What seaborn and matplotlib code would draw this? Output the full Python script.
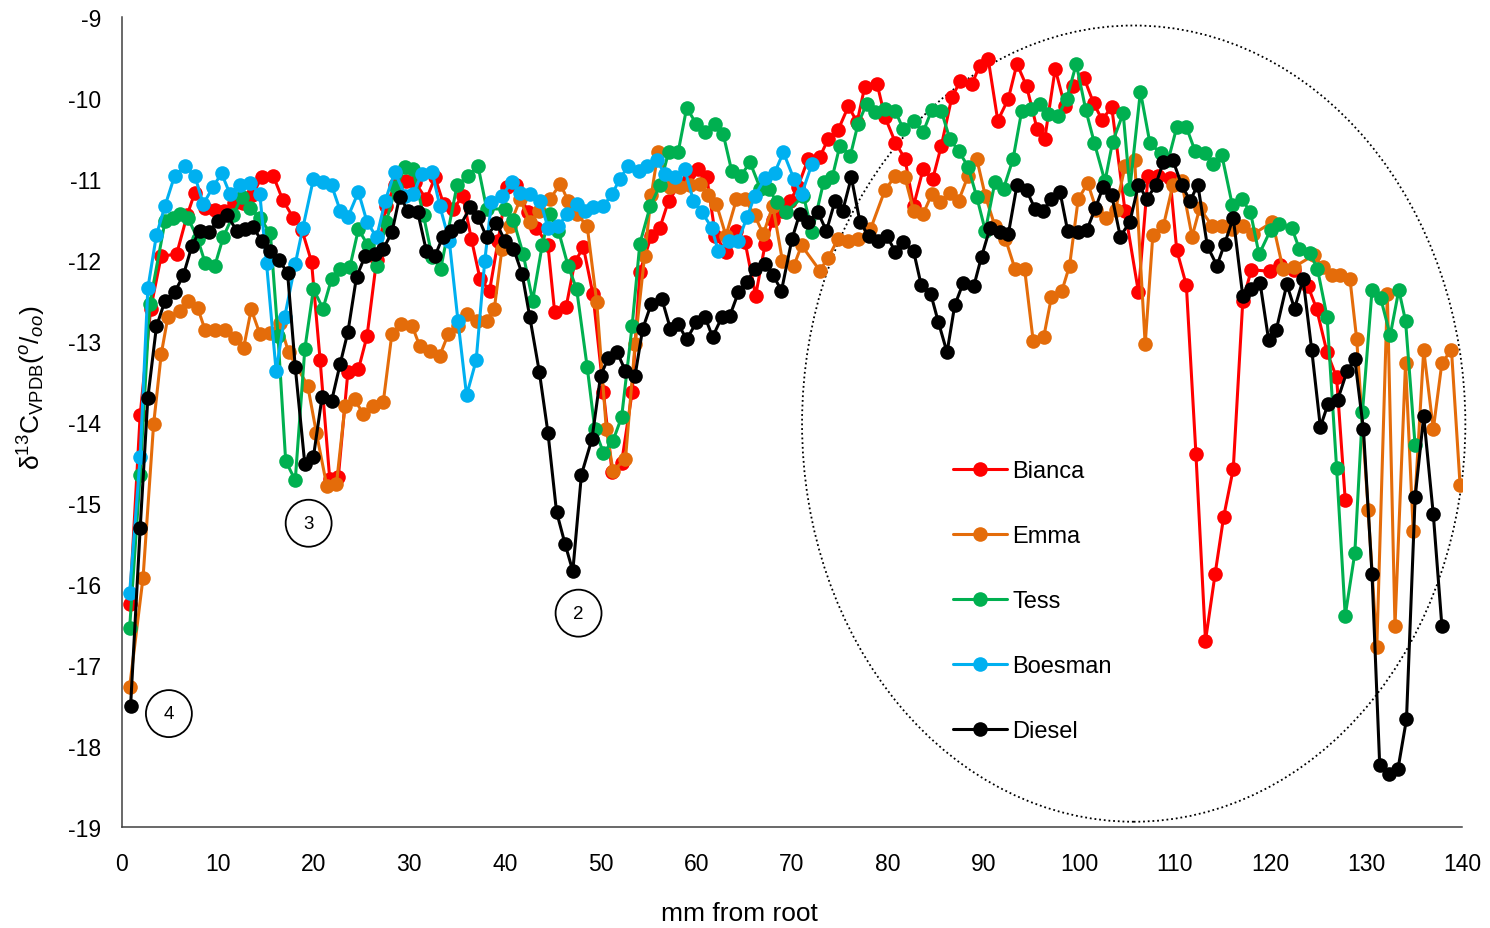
import matplotlib
matplotlib.use("Agg")
import matplotlib.pyplot as plt
import seaborn as sns
from matplotlib.patches import Ellipse
from matplotlib.lines import Line2D

# ---- data: delta13C along the hair (mm from root) ----
bianca_x = [0.8, 1.9, 3.0, 4.1, 5.7, 6.8, 7.6, 8.7, 9.7, 10.7, 11.7, 12.6, 13.6, 14.6, 15.8, 16.8,
            17.9, 18.8, 19.8, 20.7, 21.7, 22.6, 23.6, 24.7, 25.6, 26.6, 27.6, 28.5, 29.7, 30.6, 31.8,
            32.7, 33.6, 34.6, 35.6, 36.5, 37.4, 38.4, 39.3, 40.2, 41.2, 42.4, 43.3, 44.5, 45.2, 46.4,
            47.3, 48.2, 49.2, 50.3, 51.2, 52.2, 53.3, 54.1, 55.3, 56.2, 57.1, 58.3, 59.2, 60.2, 61.1,
            62.0, 63.1, 64.2, 65.1, 66.2, 67.2, 68.0, 69.0, 69.8, 70.6, 71.7, 72.9, 73.8, 74.8, 75.9,
            76.8, 77.6, 78.9, 79.7, 80.8, 81.8, 82.7, 83.7, 84.7, 85.6, 86.7, 87.6, 88.8, 89.6, 90.5,
            91.5, 92.6, 93.5, 94.5, 95.6, 96.4, 97.5, 98.5, 99.4, 100.5, 101.5, 102.4, 103.4, 104.8,
            106.2, 107.2, 108.2, 109.5, 110.2, 111.2, 112.2, 113.2, 114.2, 115.1, 116.1, 117.1, 118.0,
            119.9, 121.0, 122.4, 123.9, 124.8, 125.9, 126.9, 127.8]
bianca_y = [-16.25, -13.91, -12.6, -11.95, -11.93, -11.45, -11.17, -11.36, -11.38, -11.4, -11.3, -11.3,
            -11.2, -10.98, -10.96, -11.26, -11.48, -11.63, -12.02, -13.24, -14.7, -14.68, -13.38, -13.35,
            -12.94, -12.0, -11.33, -11.08, -11.02, -11.04, -11.25, -10.98, -11.31, -11.37, -11.21, -11.74,
            -12.23, -12.38, -11.76, -11.1, -11.08, -11.41, -11.6, -11.82, -12.64, -12.58, -12.03, -11.84,
            -12.42, -13.63, -14.62, -14.5, -13.63, -12.15, -11.7, -11.6, -11.27, -11.06, -10.92, -10.88,
            -10.98, -11.7, -11.9, -11.64, -11.78, -12.44, -11.8, -11.51, -11.4, -11.27, -11.1, -10.75,
            -10.73, -10.5, -10.4, -10.1, -10.3, -9.86, -9.83, -10.23, -10.55, -10.75, -11.33, -10.88,
            -11.0, -10.59, -9.99, -9.79, -9.83, -9.6, -9.52, -10.28, -10.01, -9.58, -9.85, -10.38,
            -10.51, -9.64, -10.1, -9.85, -9.75, -10.06, -10.27, -10.11, -11.4, -12.4, -10.96, -10.96,
            -10.99, -11.88, -12.31, -14.39, -16.7, -15.88, -15.17, -14.58, -12.5, -12.12, -12.14, -12.06,
            -12.12, -12.32, -12.6, -13.14, -13.45, -14.96]

emma_x = [0.8, 2.2, 3.3, 4.1, 4.8, 6.1, 6.9, 7.9, 8.7, 9.7, 10.8, 11.8, 12.7, 13.5, 14.4, 15.5, 16.5,
          17.4, 19.4, 20.3, 21.4, 22.4, 23.3, 24.3, 25.2, 26.2, 27.3, 28.2, 29.2, 30.3, 31.1, 32.2,
          33.2, 34.1, 35.1, 36.0, 37.1, 38.1, 38.9, 39.7, 40.5, 41.6, 42.6, 43.6, 44.7, 45.8, 46.6,
          47.5, 48.6, 49.6, 50.6, 51.3, 52.6, 53.6, 54.6, 55.3, 56.0, 57.3, 58.3, 59.3, 60.4, 61.2,
          62.1, 63.1, 64.2, 65.1, 66.1, 67.0, 68.0, 69.0, 70.2, 71.0, 72.9, 73.8, 74.8, 75.9, 76.9,
          78.2, 79.7, 80.8, 81.8, 82.7, 83.7, 84.6, 85.5, 86.5, 87.4, 88.4, 89.3, 90.2, 91.2, 92.3,
          93.3, 94.3, 95.2, 96.3, 97.1, 98.2, 99.0, 99.9, 100.9, 101.8, 102.8, 103.8, 104.8, 105.8,
          106.9, 107.7, 108.8, 109.8, 110.7, 111.8, 112.6, 113.9, 114.9, 116.0, 117.1, 118.2, 120.2,
          121.3, 122.4, 124.5, 125.5, 126.4, 127.3, 128.3, 129.0, 130.2, 131.1, 132.2, 133.0, 134.1,
          134.9, 136.0, 137.0, 137.9, 138.9, 139.8]
emma_y = [-17.27, -15.92, -14.03, -13.16, -12.7, -12.63, -12.5, -12.59, -12.87, -12.87, -12.87, -12.96,
          -13.09, -12.61, -12.91, -12.9, -12.78, -13.14, -13.55, -14.13, -14.79, -14.77, -13.8, -13.72,
          -13.9, -13.8, -13.75, -12.91, -12.79, -12.81, -13.06, -13.12, -13.18, -12.91, -12.81, -12.67,
          -12.75, -12.75, -12.6, -11.86, -11.58, -11.25, -11.53, -11.4, -11.25, -11.06, -11.27, -11.43,
          -11.58, -12.52, -14.09, -14.6, -14.46, -13.04, -11.95, -11.2, -10.67, -11.1, -11.1, -11.08,
          -11.06, -11.2, -11.31, -11.7, -11.25, -11.25, -11.45, -11.68, -11.33, -12.01, -12.07, -11.82,
          -12.13, -11.97, -11.74, -11.76, -11.74, -11.62, -11.14, -10.96, -10.98, -11.39, -11.43, -11.19,
          -11.29, -11.17, -11.27, -10.96, -10.75, -11.21, -11.58, -11.74, -12.11, -12.11, -13.0, -12.95,
          -12.46, -12.38, -12.07, -11.25, -11.05, -11.38, -11.48, -11.38, -10.84, -10.77, -13.04, -11.69,
          -11.58, -11.07, -11.03, -11.71, -11.36, -11.58, -11.58, -11.62, -11.58, -11.68, -11.53, -12.11,
          -12.09, -11.94, -12.09, -12.19, -12.19, -12.24, -12.98, -15.09, -16.78, -12.42, -16.52, -13.27,
          -15.34, -13.11, -14.09, -13.27, -13.11, -14.78]

tess_x = [0.8, 1.9, 2.9, 4.5, 5.3, 6.1, 6.9, 7.9, 8.7, 9.7, 10.6, 11.6, 12.5, 13.4, 14.4, 15.5, 16.3,
          17.1, 18.1, 19.1, 20.0, 21.0, 21.9, 22.8, 23.8, 24.7, 25.7, 26.6, 27.6, 28.6, 29.6, 30.4,
          31.5, 32.4, 33.3, 35.0, 36.2, 37.2, 38.1, 40.0, 40.9, 41.9, 42.9, 43.9, 44.7, 45.6, 46.6,
          47.5, 48.6, 49.4, 50.3, 51.3, 52.2, 53.3, 54.1, 55.2, 56.2, 57.1, 58.1, 59.0, 60.0, 60.9,
          62.0, 62.8, 63.7, 64.7, 65.6, 66.7, 67.6, 68.4, 69.4, 71.2, 72.1, 73.3, 74.2, 75.0, 76.1,
          76.9, 77.8, 78.7, 79.7, 80.8, 81.6, 82.7, 83.7, 84.6, 85.6, 86.5, 87.4, 88.4, 89.3, 90.2,
          91.2, 92.1, 93.1, 94.0, 95.0, 95.9, 96.7, 97.8, 98.7, 99.7, 100.7, 101.6, 102.7, 103.5,
          104.6, 105.3, 106.4, 107.4, 108.5, 109.3, 110.2, 111.2, 112.1, 113.2, 114.0, 114.9, 116.0,
          117.0, 117.9, 118.8, 120.0, 120.9, 122.2, 123.0, 124.1, 124.9, 125.9, 126.9, 127.8, 128.8,
          129.6, 130.6, 131.5, 132.5, 133.4, 134.1, 135.1]
tess_y = [-16.54, -14.65, -12.54, -11.52, -11.48, -11.43, -11.48, -11.74, -12.04, -12.07, -11.71, -11.45,
          -11.22, -11.36, -11.48, -11.67, -12.94, -14.48, -14.72, -13.1, -12.36, -12.6, -12.23, -12.11,
          -12.09, -11.62, -11.82, -12.07, -11.53, -11.1, -10.85, -10.88, -11.45, -11.96, -12.11, -11.08,
          -10.96, -10.84, -11.37, -11.37, -11.51, -11.92, -12.5, -11.82, -11.43, -11.64, -12.07, -12.36,
          -13.32, -14.09, -14.38, -14.23, -13.94, -12.81, -11.8, -11.33, -11.08, -10.67, -10.67, -10.12,
          -10.32, -10.42, -10.32, -10.44, -10.9, -10.96, -10.79, -11.12, -11.12, -11.29, -11.41, -11.21,
          -11.65, -11.04, -10.98, -10.59, -10.71, -10.32, -10.07, -10.17, -10.14, -10.16, -10.38, -10.28,
          -10.42, -10.15, -10.16, -10.51, -10.65, -10.85, -11.22, -11.64, -11.04, -11.12, -10.75, -10.16,
          -10.14, -10.07, -10.2, -10.22, -10.01, -9.58, -10.15, -10.56, -11.03, -10.54, -10.19, -11.12,
          -9.92, -10.56, -10.68, -10.77, -10.36, -10.36, -10.65, -10.68, -10.82, -10.7, -11.32, -11.25,
          -11.41, -11.93, -11.63, -11.55, -11.6, -11.86, -11.91, -12.11, -12.7, -14.57, -16.39, -15.62,
          -13.88, -12.37, -12.47, -12.93, -12.37, -12.75, -14.29]

boesman_x = [0.8, 1.9, 2.7, 3.6, 4.5, 5.5, 6.6, 7.6, 8.5, 9.5, 10.4, 11.3, 12.3, 13.4, 14.4, 15.1, 16.1,
             17.0, 18.1, 18.9, 20.0, 21.0, 21.9, 22.8, 23.6, 24.7, 25.6, 26.6, 27.5, 28.5, 29.6, 30.4,
             31.3, 32.4, 33.2, 34.2, 35.1, 36.0, 37.0, 37.9, 38.6, 39.7, 40.7, 41.6, 42.6, 43.7, 44.5,
             45.6, 46.5, 47.5, 48.4, 49.2, 50.3, 51.2, 52.0, 52.9, 54.0, 54.8, 55.9, 56.7, 57.8, 58.8,
             59.7, 60.6, 61.6, 62.3, 63.4, 64.4, 65.3, 66.1, 67.2, 68.2, 69.1, 70.2, 71.0, 72.1]
boesman_y = [-16.11, -14.43, -12.35, -11.69, -11.33, -10.96, -10.84, -10.96, -11.31, -11.1, -10.93, -11.19,
             -11.07, -11.05, -11.19, -12.04, -13.37, -12.7, -12.05, -11.6, -11.0, -11.04, -11.08, -11.39,
             -11.47, -11.16, -11.53, -11.72, -11.27, -10.91, -11.21, -11.19, -10.94, -10.91, -11.33, -11.77,
             -12.75, -13.67, -13.24, -12.01, -11.29, -11.21, -11.04, -11.17, -11.19, -11.27, -11.6, -11.58,
             -11.43, -11.31, -11.39, -11.35, -11.33, -11.19, -11.0, -10.84, -10.9, -10.84, -10.77, -10.94,
             -10.98, -10.88, -11.27, -11.41, -11.6, -11.89, -11.76, -11.76, -11.47, -11.21, -10.99, -10.92,
             -10.67, -11.0, -11.19, -10.81]

diesel_x = [0.9, 1.9, 2.7, 3.6, 4.5, 5.5, 6.4, 7.3, 8.1, 9.1, 10.0, 11.0, 12.0, 12.9, 13.7, 14.6, 15.5,
            16.4, 17.3, 18.1, 19.1, 20.0, 20.9, 21.9, 22.8, 23.6, 24.5, 25.4, 26.4, 27.3, 28.2, 29.0,
            29.9, 30.9, 31.8, 32.7, 33.5, 34.4, 35.3, 36.4, 37.2, 38.1, 39.1, 40.0, 40.9, 41.8, 42.6,
            43.6, 44.5, 45.4, 46.3, 47.1, 48.0, 49.1, 50.0, 50.8, 51.7, 52.6, 53.6, 54.4, 55.3, 56.4,
            57.3, 58.1, 59.0, 60.0, 60.9, 61.7, 62.7, 63.5, 64.4, 65.3, 66.1, 67.2, 68.0, 68.9, 70.0,
            70.8, 71.7, 72.7, 73.6, 74.5, 75.3, 76.2, 77.1, 78.0, 79.0, 79.9, 80.8, 81.6, 82.7, 83.5,
            84.5, 85.3, 86.2, 87.0, 87.9, 89.0, 89.8, 90.7, 91.7, 92.6, 93.5, 94.5, 95.4, 96.2, 97.1,
            98.0, 98.8, 99.9, 100.8, 101.7, 102.5, 103.4, 104.3, 105.3, 106.2, 107.1, 108.0, 108.8,
            109.8, 110.7, 111.6, 112.4, 113.4, 114.4, 115.2, 116.1, 117.1, 118.0, 118.9, 119.8, 120.6,
            121.7, 122.5, 123.4, 124.3, 125.2, 126.0, 127.0, 128.0, 128.8, 129.7, 130.6, 131.4, 132.4,
            133.3, 134.2, 135.1, 136.0, 137.0, 137.9]
diesel_y = [-17.5, -15.31, -13.7, -12.82, -12.5, -12.4, -12.19, -11.83, -11.64, -11.65, -11.52, -11.45,
            -11.64, -11.62, -11.59, -11.77, -11.89, -12.0, -12.16, -13.32, -14.52, -14.43, -13.69, -13.74,
            -13.28, -12.89, -12.21, -11.95, -11.93, -11.86, -11.66, -11.22, -11.39, -11.41, -11.89, -11.95,
            -11.72, -11.64, -11.58, -11.35, -11.47, -11.72, -11.54, -11.76, -11.86, -12.17, -12.7, -13.38,
            -14.13, -15.11, -15.51, -15.84, -14.65, -14.21, -13.43, -13.21, -13.13, -13.37, -13.43, -12.85,
            -12.54, -12.48, -12.85, -12.79, -12.98, -12.77, -12.7, -12.95, -12.7, -12.69, -12.4, -12.27,
            -12.11, -12.05, -12.18, -12.38, -11.74, -11.43, -11.53, -11.41, -11.64, -11.27, -11.39, -10.98,
            -11.53, -11.7, -11.76, -11.7, -11.9, -11.78, -11.89, -12.31, -12.42, -12.77, -13.14, -12.56,
            -12.28, -12.32, -11.96, -11.6, -11.66, -11.68, -11.08, -11.14, -11.37, -11.39, -11.25, -11.16,
            -11.64, -11.66, -11.63, -11.36, -11.1, -11.2, -11.71, -11.53, -11.07, -11.25, -11.07, -10.79,
            -10.77, -11.07, -11.27, -11.07, -11.83, -12.07, -11.8, -11.48, -12.45, -12.36, -12.28, -12.99,
            -12.86, -12.3, -12.6, -12.24, -13.11, -14.06, -13.78, -13.73, -13.37, -13.22, -14.09, -15.88,
            -18.23, -18.34, -18.29, -17.67, -14.93, -13.93, -15.14, -16.52]

series_names = ["Bianca", "Emma", "Tess", "Boesman", "Diesel"]
series_colors = ["#FF0000", "#E46C0A", "#00B050", "#00B0F0", "#000000"]
x_ticks = list(range(0, 141, 10))
y_ticks = list(range(-19, -8))

# circled sample markers: (label, x, y)
circle_labels = ["4", "3", "2"]
circle_x = [4.9, 19.5, 47.7]
circle_y = [-17.6, -15.25, -16.36]

# ---- styling ----
sns.set_theme(style="white")
plt.rcParams["font.family"] = ["Liberation Sans", "DejaVu Sans"]
plt.rcParams["mathtext.fontset"] = "custom"
plt.rcParams["mathtext.rm"] = "Liberation Sans"
plt.rcParams["mathtext.it"] = "Liberation Sans:italic"
plt.rcParams["mathtext.bf"] = "Liberation Sans:bold"
plt.rcParams["text.color"] = "black"
plt.rcParams["axes.labelcolor"] = "black"

fig = plt.figure(figsize=(14.9, 9.29), dpi=100)
ax = fig.add_axes([122 / 1490, 101 / 929, 1340 / 1490, 810 / 929])

MS = 10.5
LW = 2.2
all_x = [bianca_x, emma_x, tess_x, boesman_x, diesel_x]
all_y = [bianca_y, emma_y, tess_y, boesman_y, diesel_y]
handles = []
for i, (name, xs, ys, col) in enumerate(zip(series_names, all_x, all_y, series_colors)):
    sns.lineplot(x=xs, y=ys, ax=ax, color=col, marker="o", markersize=MS,
                 markeredgewidth=0, markeredgecolor=col, linewidth=LW,
                 estimator=None, sort=False, zorder=3 + i, legend=False)
    handles.append(Line2D([0], [0], color=col, marker="o", markersize=MS,
                          markeredgewidth=0, linewidth=LW))

ax.set_xlim(0, 140)
ax.set_ylim(-19, -9)
ax.set_xticks(x_ticks)
ax.set_yticks(y_ticks)
ax.set_xticklabels([str(v) for v in x_ticks])
ax.set_yticklabels([str(v) for v in y_ticks])

for side in ["top", "right"]:
    ax.spines[side].set_visible(False)
for side in ["left", "bottom"]:
    ax.spines[side].set_color("#404040")
    ax.spines[side].set_linewidth(1.1)
ax.tick_params(axis="both", direction="out", length=6, width=1.1, color="#404040",
               labelsize=16.5, labelcolor="black")
ax.tick_params(axis="y", pad=9)
ax.tick_params(axis="x", pad=12)
ax.grid(False)

ax.set_xlabel("mm from root", fontsize=19)
ax.xaxis.set_label_coords(0.461, -0.091)
ax.set_ylabel("δ$^{13}$C$_{\\mathrm{VPDB}}$($^{o}$/$_{oo}$)", fontsize=19)
ax.yaxis.set_label_coords(-0.055, 0.543)

# dotted ellipse around the distal section
ax.add_patch(Ellipse((105.7, -14.02), 69.3, 9.83, fill=False, ec="black",
                     lw=1.3, ls=(0, (1, 1.6)), clip_on=False, zorder=2))

# circled sample numbers
for lab, cx, cy in zip(circle_labels, circle_x, circle_y):
    ax.add_patch(Ellipse((cx, cy), 4.8, 0.58, fill=False, ec="black", lw=1.3, zorder=2))
    ax.text(cx, cy, lab, ha="center", va="center", fontsize=13.5, zorder=2)

ax.legend(handles, series_names, loc="upper left", bbox_to_anchor=(0.620, 0.453),
          frameon=False, fontsize=17, handlelength=2.3, handletextpad=0.22,
          labelspacing=1.82, borderpad=0, borderaxespad=0)

fig.savefig("out.png", dpi=100)
